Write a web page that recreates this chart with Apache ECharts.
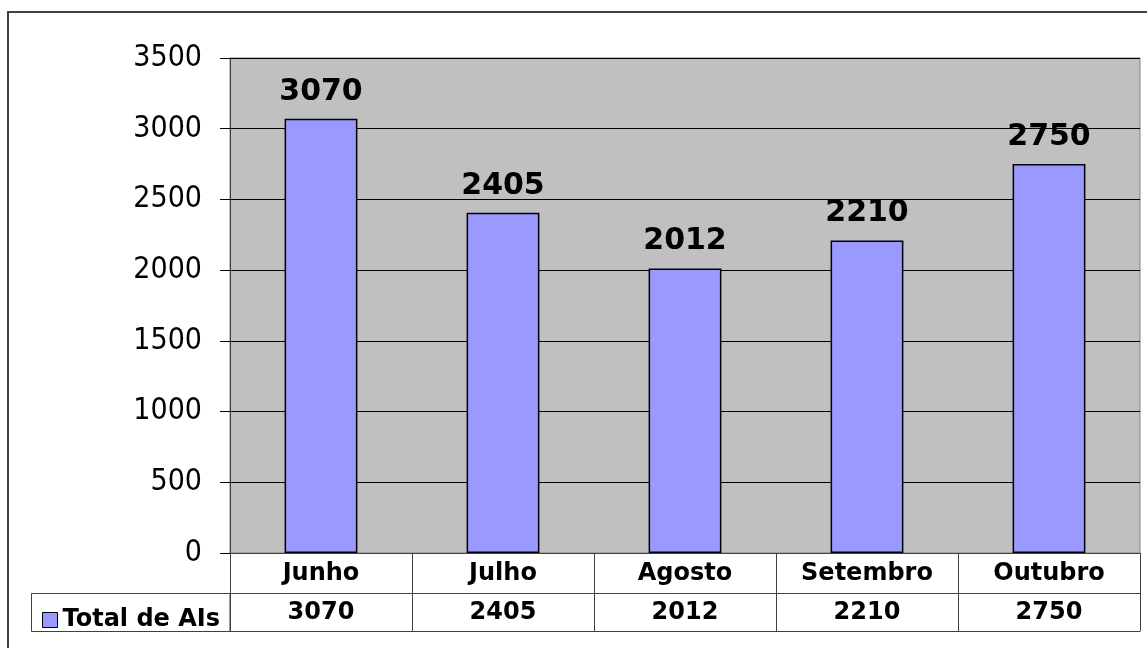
<!DOCTYPE html>
<html>
<head>
<meta charset="utf-8">
<script src="https://cdn.jsdelivr.net/npm/echarts@6/dist/echarts.min.js"></script>
<style>
html,body{margin:0;padding:0;background:#fff;}
#c{width:1147px;height:648px;}
</style>
</head>
<body>
<div id="c"></div>
<script>
const categories = ['Junho', 'Julho', 'Agosto', 'Setembro', 'Outubro'];
const seriesName = 'Total de AIs';
const values = [3070, 2405, 2012, 2210, 2750];
const yTicks = [0, 500, 1000, 1500, 2000, 2500, 3000, 3500];

const chart = echarts.init(document.getElementById('c'), null, {renderer: 'canvas'});
const boldFont = {fontFamily: 'DejaVu Sans', fontWeight: 'bold', color: '#000'};
const tableLine = {color: '#404040', width: 1};

chart.setOption({
  animation: false,
  backgroundColor: '#fff',
  grid: {
    left: 230, right: 7, top: 58, bottom: 95,
    show: true, backgroundColor: '#C0C0C0', borderColor: '#808080', borderWidth: 1
  },
  legend: {
    data: [seriesName],
    left: 37, top: 603,
    icon: 'rect', itemWidth: 15, itemHeight: 15,
    itemStyle: {color: '#9999FF', borderColor: '#000', borderWidth: 1},
    textStyle: Object.assign({fontSize: 24, lineHeight: 24}, boldFont),
    selectedMode: false
  },
  xAxis: [
    {
      type: 'category', data: categories, position: 'bottom',
      axisLine: {show: true, lineStyle: tableLine},
      axisTick: {show: true, length: 78, lineStyle: tableLine},
      axisLabel: Object.assign({fontSize: 24, lineHeight: 24, margin: 9}, boldFont),
      splitLine: {show: false}
    },
    {
      type: 'category', data: categories, position: 'bottom', offset: 40,
      axisLine: {show: true, lineStyle: tableLine},
      axisTick: {show: false},
      axisLabel: Object.assign({fontSize: 24, lineHeight: 24, margin: 8,
        formatter: (v, i) => String(values[i])}, boldFont)
    },
    {
      type: 'category', data: categories, position: 'bottom', offset: 78,
      axisLine: {show: true, lineStyle: tableLine},
      axisTick: {show: false},
      axisLabel: {show: false}
    }
  ],
  yAxis: {
    type: 'value', min: yTicks[0], max: yTicks[yTicks.length - 1], interval: 500,
    axisLine: {show: true, lineStyle: {color: '#404040', width: 1}},
    axisTick: {show: true, length: 10, lineStyle: {color: '#000', width: 1}},
    axisLabel: {fontFamily: 'DejaVu Sans Condensed, Liberation Sans', fontSize: 30, color: '#000', margin: 28,
      formatter: v => String(v)},
    splitLine: {show: true, lineStyle: {color: '#000', width: 1}}
  },
  series: [{
    name: seriesName,
    type: 'bar',
    xAxisIndex: 0,
    data: values,
    barWidth: '40%',
    itemStyle: {color: '#9999FF', borderColor: '#000', borderWidth: 1.5},
    label: Object.assign({show: true, position: 'top', distance: 12, fontSize: 30, lineHeight: 30}, boldFont)
  }],
  graphic: [
    {type: 'rect', shape: {x: 8, y: 12, width: 1160, height: 660},
     style: {fill: null, stroke: '#404040', lineWidth: 2}, silent: true, z: -10},
    {type: 'rect', shape: {x: 31.5, y: 593.5, width: 198.5, height: 38},
     style: {fill: null, stroke: '#404040', lineWidth: 1}, silent: true}
  ]
});
</script>
</body>
</html>
